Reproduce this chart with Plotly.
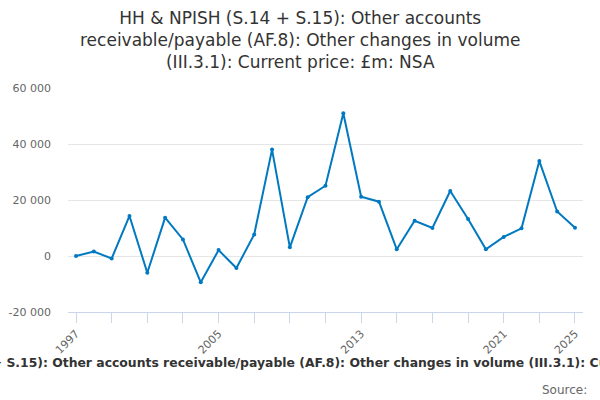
import plotly.graph_objects as go

years = list(range(1997, 2026))
values = [0, 1600, -900, 14300, -6000, 13700, 5900, -9400, 2100, -4300, 7700,
          38000, 3100, 21000, 25100, 51000, 21200, 19400, 2400, 12600, 10000,
          23200, 13200, 2400, 6800, 9900, 33900, 15900, 10100]

tick_years = list(range(1997, 2026, 2))
label_years = {1997: "1997", 2005: "2005", 2013: "2013", 2021: "2021", 2025: "2025"}
tick_text = [label_years.get(y, "") for y in tick_years]

y_ticks = [-20000, 0, 20000, 40000, 60000]
y_text = ["-20 000", "0", "20 000", "40 000", "60 000"]

title = ("HH & NPISH (S.14 + S.15): Other accounts<br>receivable/payable (AF.8): Other changes in volume"
         "<br>(III.3.1): Current price: £m: NSA")
series_name = ("HH & NPISH (S.14 + S.15): Other accounts receivable/payable (AF.8): "
               "Other changes in volume (III.3.1): Current price: £m: NSA")

W, H = 600, 400
ML, MR, MT, MB = 68, 17, 88, 88
PW, PH = W - ML - MR, H - MT - MB


def px_x(x):
    return (x - ML) / PW


def px_y(y):
    return (H - MB - y) / PH


color = "#0079c1"
fig = go.Figure()
fig.add_trace(go.Scatter(
    x=years, y=values, mode="lines+markers", name=series_name,
    line=dict(color=color, width=2), marker=dict(color=color, size=4),
    showlegend=False,
))

fig.update_layout(
    width=W, height=H,
    margin=dict(l=ML, r=MR, t=MT, b=MB),
    paper_bgcolor="white", plot_bgcolor="white",
    font=dict(family="DejaVu Sans", color="#333333"),
    xaxis=dict(
        range=[1996.55, 2025.45], automargin=False,
        tickvals=tick_years, ticktext=tick_text, tickangle=-45,
        ticks="outside", ticklen=10, tickcolor="#ccd6eb", tickwidth=1,
        showline=True, linecolor="#ccd6eb", linewidth=1,
        showgrid=False, zeroline=False,
        tickfont=dict(size=11, color="#666666", family="DejaVu Sans"),
    ),
    yaxis=dict(
        range=[-20000, 60000], automargin=False,
        tickvals=y_ticks, ticktext=y_text,
        showgrid=True, gridcolor="#e6e6e6", gridwidth=1,
        zeroline=False, showline=False, ticks="", ticklabelstandoff=16,
        tickfont=dict(size=11, color="#666666", family="DejaVu Sans"),
    ),
    annotations=[
        dict(text=title, x=px_x(300), y=px_y(40), xref="paper", yref="paper",
             showarrow=False, align="center",
             font=dict(size=17, color="#333333", family="DejaVu Sans"),
             xanchor="center", yanchor="middle"),
        dict(text="<b>" + series_name + "</b>", x=px_x(307), y=px_y(362),
             xref="paper", yref="paper",
             showarrow=False, font=dict(size=12.4, color="#333333", family="DejaVu Sans"),
             xanchor="center", yanchor="middle"),
        dict(text="Source:", x=px_x(589), y=px_y(390), xref="paper", yref="paper",
             showarrow=False, font=dict(size=12, color="#666666", family="DejaVu Sans"),
             xanchor="right", yanchor="middle"),
    ],
)

fig.write_html("out.html", config={"displayModeBar": False},
               post_script="document.body.style.margin='0';document.body.style.padding='0';")
